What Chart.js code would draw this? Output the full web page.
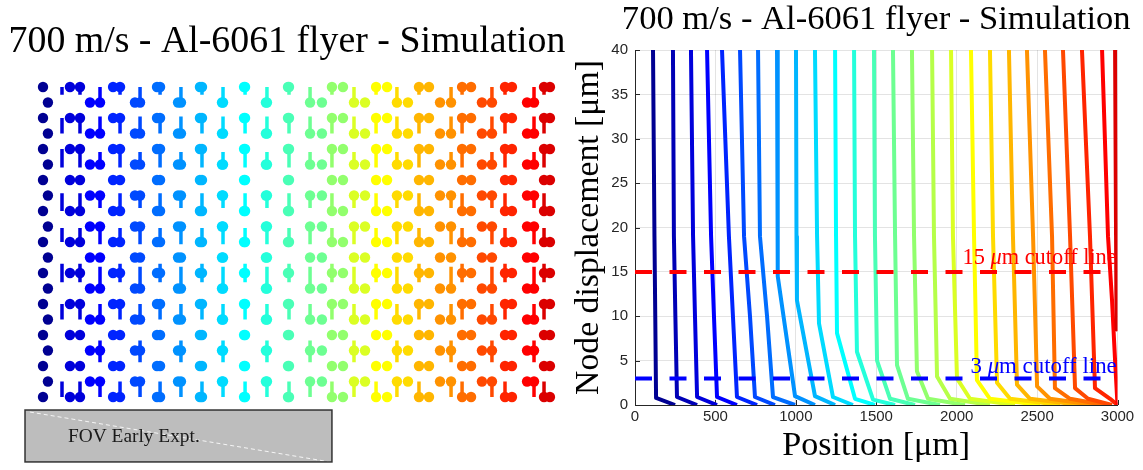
<!DOCTYPE html>
<html>
<head>
<meta charset="utf-8">
<title>700 m/s - Al-6061 flyer - Simulation</title>
<script src="https://cdn.jsdelivr.net/npm/chart.js@4.4.1/dist/chart.umd.min.js"></script>
<style>
  body { margin: 0; background: #fff; }
  #figure { position: relative; width: 1143px; height: 470px; overflow: hidden; background: #fff; }
  #nodeChart { position: absolute; left: 0; top: 0; }
  #dispChart { position: absolute; left: 565px; top: 0; }
</style>
</head>
<body>
<div id="figure">
  <canvas id="nodeChart" width="600" height="470"></canvas>
  <canvas id="dispChart" width="578" height="470"></canvas>
</div>
<script>
const TITLE = '700 m/s - Al-6061 flyer - Simulation';
const SERIF = "'Liberation Serif', 'DejaVu Serif', serif";
const SANS = "'Liberation Sans', Arial, sans-serif";

// ---- left panel: node lattice (x in um, y counted in node rows from the top) ----
const colPlainPos = [0, 29, 159, 277, 413, 542, 672, 796, 925, 1055, 1185, 1314, 1444,
                     1644, 1768, 1898, 2028, 2151, 2275, 2340, 2523, 2587, 2764, 2853, 2988];
const colStalkPos = [null, null, 218, 336, 454, 572, 690, 813, 937, 1061, 1191, 1320, 1450,
                     1574, 1703, 1833, 1963, 2086, 2216, 2405, 2470, 2646, 2723, 2894, 2953];
const colRowSet = ['E', 'O', 'E', 'O', 'E', 'O', 'E', 'O', 'E', 'O', 'E', 'O', 'E',
                   'O', 'E', 'O', 'E', 'O', 'E', 'O', 'E', 'O', 'E', 'O', 'E'];
const looseStalkPos = [112];
const looseStalkCol = [2];
const evenRows = [0, 2, 4, 6, 8, 10, 12, 14, 16, 18, 20];
const oddRows = [1, 3, 5, 7, 9, 11, 13, 15, 17, 19];
// stalk extent around each node, in rows (negative = upwards)
const evenRowStalks = [[0, 0.5], [0, 1.0], [0, 1.2], null, [-1.15, 0], [-0.9, 0],
                       [-0.6, 0.6], [0, 1.0], null, null, [-1.0, 0]];
const oddRowStalks = [[-1.0, 0], [-1.1, 0], [-0.8, 0], [-0.2, 0.8], [0, 1.15], null,
                      [-1.4, 0], [-1.0, 0], [-0.65, 0.75], [0, 1.0]];
const fovBoxPos = [-106, 1703];
const fovBoxRows = [20.84, 24.19];
const fovDiag = [[-77, 20.97], [1692, 24.19]];
const fovLabel = 'FOV Early Expt.';
const fovLabelAt = [147, 22.6];
const leftTitleAt = [1438, -2.9];

// ---- right panel: node displacement vs position, one line per node column ----
const topPos   = [112, 236, 348, 448, 541, 653, 765, 883, 1001, 1119, 1244, 1362, 1486,
                  1604, 1722, 1847, 1965, 2089, 2207, 2325, 2437, 2549, 2661, 2779, 2904, 2985];
const midPos   = [121, 242, 361, 473, 584, 678, 777, 886, 1004, 1132, 1250, 1368, 1492,
                  1617, 1735, 1859, 1977, 2108, 2226, 2350, 2475, 2593, 2705, 2829, 2941, 2991];
const kinkPos  = [126, 251, 373, 491, 609, 715, 821, 889, 1007, 1144, 1256, 1380, 1505,
                  1629, 1753, 1878, 2002, 2126, 2251, 2375, 2500, 2611, 2736, 2860, 2966, 2993];
const kinkDisp = [10, 10, 10, 10, 10, 10, 10, 14.5, 11.8, 9.2, 8.1, 6.0, 5.0,
                  4.5, 3.8, 3.2, 3.0, 2.8, 2.5, 2.3, 2.1, 1.9, 1.9, 1.9, 11.8, 12];
const kneePos  = [131, 261, 386, 510, 634, 746, 858, 995, 1119, 1231, 1368, 1480, 1586,
                  1697, 1822, 1959, 2083, 2207, 2332, 2456, 2580, 2705, 2817, 2954, 2985, 2995];
const kneeDisp = [0.8, 0.9, 0.9, 0.9, 0.9, 0.9, 0.9, 1.0, 1.0, 0.9, 0.7, 0.6, 0.7,
                  0.7, 0.7, 0.7, 0.7, 0.7, 0.7, 0.7, 0.7, 0.7, 0.7, 0.7, 5, 8.5];
const footPos  = [249, 386, 510, 634, 759, 870, 995, 1119, 1244, 1355, 1492, 1617, 1741,
                  1896, 2052, 2207, 2363, 2518, 2643, 2767, 2860, 2922, 2966, 3000, 3000, null];
const topDisp = 40;
const midDisp = 19;

const cutoffLevels = [15, 3];
const cutoffSpan = [0, 2900];
const cutoffColors = ['#ff0000', '#0000ff'];
const cutoffLabels = [['15 ', '\u03bc', 'm cutoff line'], ['3 ', '\u03bc', 'm cutoff line']];
const cutoffLabelAt = [[2995, 16.6], [2995, 4.3]];
const rightTitleAt = [1500, 43.4];

// MATLAB style jet(n) colour map
function jetMap(n) {
    const m = Math.ceil(n / 4);
    const u = [];
    for (let i = 1; i <= m; i++) u.push(i / m);
    for (let i = 1; i < m; i++) u.push(1);
    for (let i = m; i >= 1; i--) u.push(i / m);
    const g0 = Math.ceil(m / 2) - (n % 4 === 1 ? 1 : 0);
    const cols = Array.from({length: n}, () => [0, 0, 0]);
    u.forEach((v, k) => {
        const g = g0 + k + 1, r = g + m, b = g - m;
        if (r >= 1 && r <= n) cols[r - 1][0] = v;
        if (g >= 1 && g <= n) cols[g - 1][1] = v;
        if (b >= 1 && b <= n) cols[b - 1][2] = v;
    });
    return cols.map(c => `rgb(${c.map(v => Math.round(v * 255)).join(',')})`);
}
const JET = jetMap(topPos.length);

const measureCtx = document.createElement('canvas').getContext('2d');
function fitSize(text, family, width) {
    measureCtx.font = '100px ' + family;
    return 100 * width / measureCtx.measureText(text).width;
}

function drawText(ctx, text, x, y, size, color, align) {
    ctx.save();
    ctx.font = `${size}px ${SERIF}`;
    ctx.fillStyle = color;
    ctx.textAlign = align || 'center';
    ctx.textBaseline = 'middle';
    ctx.fillText(text, x, y);
    ctx.restore();
}

// right-aligned text with an italic middle part (the math mu)
function drawMathLabel(ctx, parts, xRight, y, width, color) {
    const size = fitSize(parts.join(''), SERIF, width);
    const fonts = [`${size}px ${SERIF}`, `italic ${size}px ${SERIF}`, `${size}px ${SERIF}`];
    ctx.save();
    ctx.fillStyle = color;
    ctx.textBaseline = 'middle';
    ctx.textAlign = 'left';
    const widths = parts.map((p, i) => { ctx.font = fonts[i]; return ctx.measureText(p).width; });
    let x = xRight - widths.reduce((a, b) => a + b, 0);
    parts.forEach((p, i) => { ctx.font = fonts[i]; ctx.fillText(p, x, y); x += widths[i]; });
    ctx.restore();
}

// ---------------- left panel ----------------
const nodeDatasets = [];
colPlainPos.forEach((plain, c) => {
    const rows = colRowSet[c] === 'E' ? evenRows : oddRows;
    const stalks = colRowSet[c] === 'E' ? evenRowStalks : oddRowStalks;
    const stalkPos = colStalkPos[c];
    const centre = stalkPos === null ? plain : (plain + stalkPos) / 2;
    const color = JET[Math.round(centre / 3000 * (JET.length - 1))];

    const stalkX = [];
    if (stalkPos !== null) stalkX.push(stalkPos);
    looseStalkCol.forEach((col, k) => { if (col === c) stalkX.push(looseStalkPos[k]); });

    const segs = [];
    stalkX.forEach(sx => {
        rows.forEach((r, k) => {
            const s = stalks[k];
            if (!s) return;
            segs.push({x: sx, y: r + s[0]}, {x: sx, y: r + s[1]}, {x: sx, y: null});
        });
    });
    nodeDatasets.push({
        data: segs, showLine: true, borderColor: color, borderWidth: 3.5,
        borderCapStyle: 'butt', pointRadius: 0, clip: false
    });

    const dots = rows.map(r => ({x: plain, y: r}));
    if (stalkPos !== null) rows.forEach(r => dots.push({x: stalkPos, y: r}));
    nodeDatasets.push({
        data: dots, backgroundColor: color, borderWidth: 0, pointRadius: 5.2, clip: false
    });
});

const nodeDecor = {
    id: 'nodeDecor',
    beforeDatasetsDraw(chart) {
        const {ctx, scales: {x, y}} = chart;
        const x0 = x.getPixelForValue(fovBoxPos[0]), x1 = x.getPixelForValue(fovBoxPos[1]);
        const y0 = y.getPixelForValue(fovBoxRows[0]), y1 = y.getPixelForValue(fovBoxRows[1]);
        ctx.save();
        ctx.fillStyle = '#bdbdbd';
        ctx.fillRect(x0, y0, x1 - x0, y1 - y0);
        ctx.strokeStyle = 'rgba(255,255,255,0.85)';
        ctx.lineWidth = 1;
        ctx.setLineDash([4, 3]);
        ctx.beginPath();
        ctx.moveTo(x.getPixelForValue(fovDiag[0][0]), y.getPixelForValue(fovDiag[0][1]));
        ctx.lineTo(x.getPixelForValue(fovDiag[1][0]), y.getPixelForValue(fovDiag[1][1]));
        ctx.stroke();
        ctx.setLineDash([]);
        ctx.strokeStyle = '#333';
        ctx.lineWidth = 1.5;
        ctx.strokeRect(x0, y0, x1 - x0, y1 - y0);
        ctx.restore();
        drawText(ctx, fovLabel, x.getPixelForValue(fovLabelAt[0]), y.getPixelForValue(fovLabelAt[1]),
                 fitSize(fovLabel, SERIF, 132), '#1a1a1a', 'left');
    },
    afterDraw(chart) {
        const {ctx, scales: {x, y}} = chart;
        drawText(ctx, TITLE, x.getPixelForValue(leftTitleAt[0]), y.getPixelForValue(leftTitleAt[1]),
                 fitSize(TITLE, SERIF, 557), '#000');
    }
};

new Chart(document.getElementById('nodeChart'), {
    type: 'scatter',
    data: {datasets: nodeDatasets},
    options: {
        responsive: false,
        animation: false,
        events: [],
        layout: {padding: {left: 43, right: 48, top: 87, bottom: 73}},
        plugins: {legend: {display: false}, tooltip: {enabled: false}},
        scales: {
            x: {type: 'linear', min: 0, max: 3000, display: false},
            y: {type: 'linear', min: 0, max: 20, reverse: true, display: false}
        }
    },
    plugins: [nodeDecor]
});

// ---------------- right panel ----------------
const lineCount = topPos.length;
const dispDatasets = topPos.map((p, i) => {
    const pts = [
        {x: p, y: topDisp},
        {x: midPos[i], y: midDisp},
        {x: kinkPos[i], y: kinkDisp[i]},
        {x: kneePos[i], y: kneeDisp[i]}
    ];
    if (footPos[i] !== null) pts.push({x: footPos[i], y: 0});
    return {
        data: pts, showLine: true, borderColor: JET[i], borderWidth: 4,
        borderJoinStyle: 'round', pointRadius: 0, order: lineCount - i
    };
});
cutoffLevels.forEach((lvl, k) => {
    dispDatasets.push({
        data: [{x: cutoffSpan[0], y: lvl}, {x: cutoffSpan[1], y: lvl}],
        showLine: true, borderColor: cutoffColors[k], borderWidth: 4,
        borderDash: [17, 17.5], borderCapStyle: 'butt', pointRadius: 0, order: -1 - k
    });
});

const dispDecor = {
    id: 'dispDecor',
    beforeDatasetsDraw(chart) {
        // inward tick marks on the left and bottom axes
        const {ctx, chartArea, scales: {x, y}} = chart;
        ctx.save();
        ctx.strokeStyle = '#262626';
        ctx.lineWidth = 1;
        ctx.beginPath();
        y.ticks.forEach(t => {
            const py = Math.round(y.getPixelForValue(t.value)) + 0.5;
            ctx.moveTo(chartArea.left, py);
            ctx.lineTo(chartArea.left + 5, py);
        });
        x.ticks.forEach(t => {
            const px = Math.round(x.getPixelForValue(t.value)) + 0.5;
            ctx.moveTo(px, chartArea.bottom);
            ctx.lineTo(px, chartArea.bottom - 5);
        });
        ctx.stroke();
        ctx.restore();
    },
    afterDatasetsDraw(chart) {
        const {ctx, scales: {x, y}} = chart;
        cutoffLabels.forEach((parts, k) => {
            drawMathLabel(ctx, parts, x.getPixelForValue(cutoffLabelAt[k][0]),
                          y.getPixelForValue(cutoffLabelAt[k][1]), k === 0 ? 155 : 147, cutoffColors[k]);
        });
        drawText(ctx, TITLE, x.getPixelForValue(rightTitleAt[0]), y.getPixelForValue(rightTitleAt[1]),
                 fitSize(TITLE, SERIF, 509), '#000');
    }
};

const yTitle = 'Node displacement [\u03bcm]';
const xTitle = 'Position [\u03bcm]';

new Chart(document.getElementById('dispChart'), {
    type: 'scatter',
    data: {datasets: dispDatasets},
    options: {
        responsive: false,
        animation: false,
        events: [],
        layout: {padding: {left: 0, right: 25.5, top: 50, bottom: 0}},
        plugins: {legend: {display: false}, tooltip: {enabled: false}},
        scales: {
            x: {
                type: 'linear', min: 0, max: 3000,
                afterFit: s => { s.height = 65; },
                grid: {color: 'rgba(0,0,0,0.11)', drawTicks: false},
                border: {display: true, color: '#262626', width: 1},
                ticks: {
                    stepSize: 500, padding: 3, color: '#262626',
                    font: {family: SANS, size: 15},
                    callback: v => String(v)
                },
                title: {
                    display: true, text: xTitle, color: '#000',
                    font: {family: SERIF, size: fitSize(xTitle, SERIF, 188)},
                    padding: {top: 0, bottom: 3}
                }
            },
            y: {
                type: 'linear', min: 0, max: 40,
                afterFit: s => { s.width = 70; },
                grid: {color: 'rgba(0,0,0,0.11)', drawTicks: false},
                border: {display: true, color: '#262626', width: 1},
                ticks: {
                    stepSize: 5, padding: 7, color: '#262626',
                    font: {family: SANS, size: 15}
                },
                title: {
                    display: true, text: yTitle, color: '#000',
                    font: {family: SERIF, size: fitSize(yTitle, SERIF, 335)},
                    padding: {top: 4, bottom: 0}
                }
            }
        }
    },
    plugins: [dispDecor]
});
</script>
</body>
</html>
